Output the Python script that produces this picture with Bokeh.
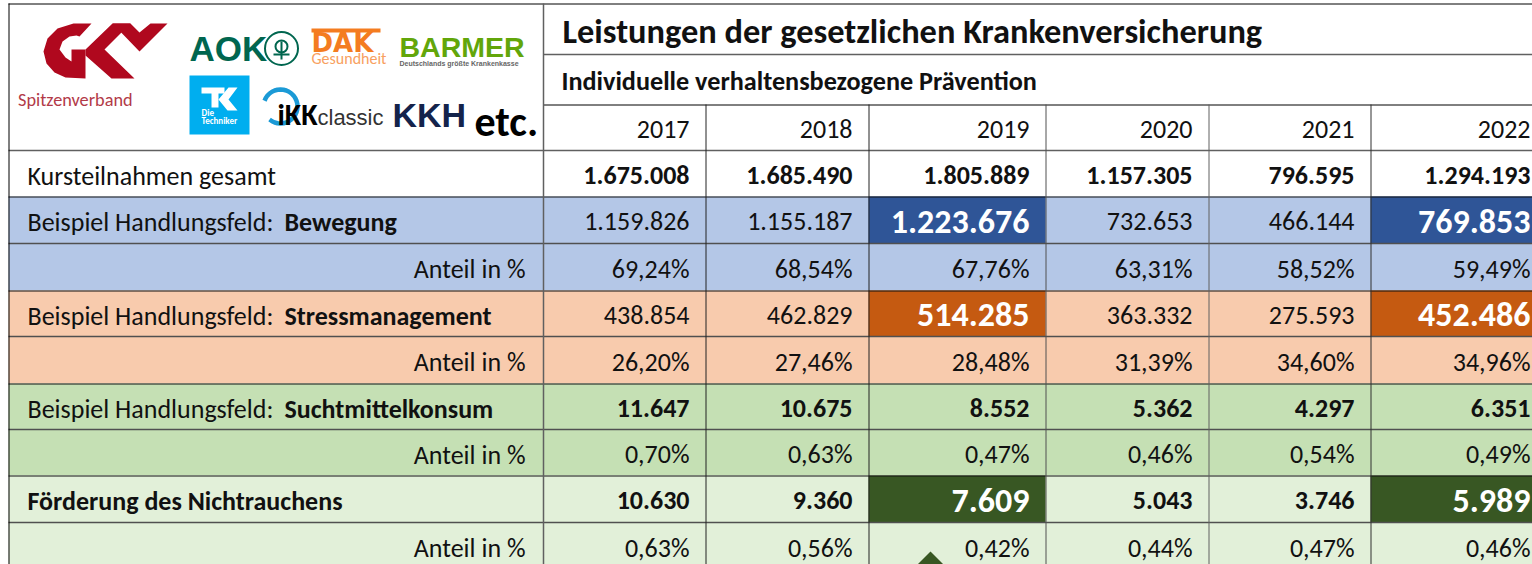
import numpy as np
from bokeh.plotting import figure
from bokeh.models import Range1d
from bokeh.core.properties import value
from bokeh.embed import file_html
from bokeh.resources import INLINE

years = ["2017", "2018", "2019", "2020", "2021", "2022"]
total = ["1.675.008", "1.685.490", "1.805.889", "1.157.305", "796.595", "1.294.193"]
bewegung = ["1.159.826", "1.155.187", "1.223.676", "732.653", "466.144", "769.853"]
bewegung_pct = ["69,24%", "68,54%", "67,76%", "63,31%", "58,52%", "59,49%"]
stress = ["438.854", "462.829", "514.285", "363.332", "275.593", "452.486"]
stress_pct = ["26,20%", "27,46%", "28,48%", "31,39%", "34,60%", "34,96%"]
sucht = ["11.647", "10.675", "8.552", "5.362", "4.297", "6.351"]
sucht_pct = ["0,70%", "0,63%", "0,47%", "0,46%", "0,54%", "0,49%"]
nicht = ["10.630", "9.360", "7.609", "5.043", "3.746", "5.989"]
nicht_pct = ["0,63%", "0,56%", "0,42%", "0,44%", "0,47%", "0,46%"]

FONT = "Carlito, Lato"
W, H = 1532, 564
p = figure(width=W, height=H, output_backend="svg", toolbar_location=None,
           x_range=Range1d(1, W + 1), y_range=Range1d(H + 1, 1), min_border=0,
           outline_line_color=None, background_fill_color="white", border_fill_color="white")
p.axis.visible = False
p.grid.visible = False

col_edges = [544, 706, 869, 1046, 1209, 1371, 1547]
row_edges = [105, 151, 197, 244, 291, 337, 384, 430, 476, 523, 570]
LEFT = 9

rows = [
    (years, "#ffffff", None, False),
    (total, "#ffffff", None, True),
    (bewegung, "#b4c7e7", "#2f5597", False),
    (bewegung_pct, "#b4c7e7", None, False),
    (stress, "#f8cbad", "#c55a11", False),
    (stress_pct, "#f8cbad", None, False),
    (sucht, "#c5e0b4", None, True),
    (sucht_pct, "#c5e0b4", None, False),
    (nicht, "#e2f0d9", "#385723", True),
    (nicht_pct, "#e2f0d9", None, False),
]
HIGHLIGHT = {2, 5}


def txt(x, y, s, size=26, bold=False, color="#111111", align="left", font=FONT):
    p.text([x + 1], [y + 1], text=[s], text_font=value(font), text_font_size=f"{size}px",
           text_font_style="bold" if bold else "normal", text_color=color,
           text_align=align, text_baseline="middle")


for i, (vals, fill, dark, bold) in enumerate(rows):
    top, bot = row_edges[i], row_edges[i + 1]
    p.quad(left=[LEFT], right=[W + 1], top=[top], bottom=[bot], fill_color=fill, line_color=None)
    for c, v in enumerate(vals):
        l, r = col_edges[c], col_edges[c + 1]
        hl = dark is not None and c in HIGHLIGHT
        if hl:
            p.quad(left=[l], right=[r], top=[top], bottom=[bot], fill_color=dark, line_color=None)
        txt(r - 17, (top + bot) / 2 + 0.5, v, size=34 if hl else 26, bold=bold or hl,
            color="#ffffff" if hl else "#111111", align="right")

for top, a, b in [(151, "Kursteilnahmen gesamt", None),
                  (197, "Beispiel Handlungsfeld: ", "Bewegung"),
                  (291, "Beispiel Handlungsfeld: ", "Stressmanagement"),
                  (384, "Beispiel Handlungsfeld: ", "Suchtmittelkonsum")]:
    txt(27, top + 24, a)
    if b:
        txt(284, top + 24, b, bold=True)
txt(27, 476 + 24, "Förderung des Nichtrauchens", bold=True)
for top in (244, 337, 430, 523):
    txt(525, top + 24, "Anteil in %", align="right")

txt(562, 30, "Leistungen der gesetzlichen Krankenversicherung", size=34.4, bold=True)
txt(561, 80, "Individuelle verhaltensbezogene Prävention", size=26.2, bold=True)


def hline(x0, x1, y, color="#000000", w=1):
    p.segment([x0], [y], [x1], [y], line_color=color, line_width=w)


def vline(x, y0, y1, color="#000000", w=1):
    p.segment([x], [y0], [x], [y1], line_color=color, line_width=w)


hline(LEFT, W + 1, 4.5)
hline(544, W + 1, 55, "#606060", 1.5)
hline(544, W + 1, 105.5)
hline(LEFT, W + 1, 151, "#606060", 1.5)
for y in row_edges[2:-1]:
    if y in (244, 337, 430, 523):
        hline(LEFT, W + 1, y, "#505050", 1.5)
    else:
        hline(LEFT, W + 1, y + 0.5, "#111111", 1)
vline(9.5, 4, H + 1)
vline(544, 4, H + 1, "#606060", 1.5)
for x, c in zip(col_edges[1:-1], ["#222222", "#222222", "#505050", "#606060", "#303030"]):
    vline(x + 0.5, 105, H + 1, c, 1)

p.patch(x=[918, 931, 944], y=[565, 552, 565], fill_color="#385723", line_color=None)

# GKV logo
RED = "#b0081e"
p.patch(x=[92, 74, 58, 48, 44, 47, 55, 66, 86, 86, 72, 72, 66, 60, 63, 70, 77, 80],
        y=[24, 24, 29, 39, 52, 64, 73, 78, 79, 50, 50, 62, 58, 50, 42, 37, 36, 37],
        fill_color=RED, line_color=None)
p.patch(x=[86, 113, 131, 105, 135, 112, 86], y=[50, 24, 24, 50, 79, 79, 56], fill_color=RED, line_color=None)
p.patch(x=[113, 131, 140, 151, 168, 140], y=[24, 24, 33, 24, 24, 52], fill_color=RED, line_color=None)
txt(17.5, 99, "Spitzenverband", size=18.3, color="#b23a48")

# AOK
AOK = "#00664f"
txt(189, 48, "AOK", size=35, color=AOK, bold=True, font="Liberation Sans")
p.scatter([282], [49], size=33, fill_color="white", line_color=AOK, line_width=2, marker="circle")
p.scatter([282], [47], size=12, fill_color="white", line_color=AOK, line_width=2, marker="circle")
p.segment([282], [42], [282], [60], line_color=AOK, line_width=2)
p.segment([274], [55], [290], [55], line_color=AOK, line_width=2)

# DAK
ORANGE = "#f47c20"
p.quad(left=[312], right=[381], top=[29], bottom=[33], fill_color=ORANGE, line_color=None)
txt(311, 42, "DAK", size=26, color=ORANGE, bold=True, font="DejaVu Sans")
txt(311, 58, "Gesundheit", size=16, color="#f8a060")

# BARMER
txt(399, 46, "BARMER", size=28.5, color="#62a60a", bold=True, font="Liberation Sans")
txt(399, 63, "Deutschlands größte Krankenkasse", size=7, color="#666666", bold=True, font="Liberation Sans")

# TK
p.quad(left=[190], right=[250], top=[76], bottom=[135], fill_color="#00aeef", line_color=None)
p.patch(x=[202, 225, 225, 219, 219, 212, 212, 202], y=[88, 88, 94, 94, 108, 108, 94, 94],
        fill_color="white", line_color=None)
p.patch(x=[219, 229, 238, 229, 238, 228], y=[100, 88, 88, 100, 111, 111], fill_color="white", line_color=None)
txt(201, 112, "Die", size=9, color="white", bold=True)
txt(201, 120, "Techniker", size=9, color="white", bold=True)

# IKK classic
t = np.radians(np.arange(-70, 221, 10))
p.line(281 + 17 * np.sin(t), 107 - 17 * np.cos(t), line_color="#1b9ad6", line_width=4.5)
txt(277, 114, "iKK", size=30, color="#000000", bold=True)
txt(317, 117, "classic", size=22, color="#333333", font="Liberation Sans")

# KKH, etc.
txt(392, 114, "KKH", size=34, color="#14234b", bold=True, font="Liberation Sans")
txt(474, 121, "etc.", size=42, color="#000000", bold=True)

open("out.html", "w").write(file_html(p, INLINE))
